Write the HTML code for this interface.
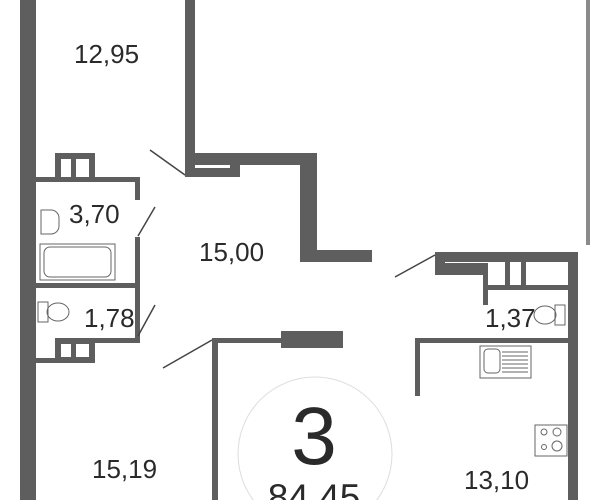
<!DOCTYPE html>
<html><head><meta charset="utf-8"><style>
html,body{margin:0;width:600px;height:500px;overflow:hidden;background:#fff}
svg{display:block}
text{font-family:"Liberation Sans",sans-serif;fill:#2a2a2a}
</style></head><body>
<svg width="600" height="500" viewBox="0 0 600 500" overflow="hidden">
<g fill="#5e5e5e">
<rect x="20" y="0" width="16" height="500"/>
<rect x="185" y="0" width="10" height="177"/>
<rect x="185" y="165" width="55" height="12"/>
<rect x="195" y="153" width="122" height="12"/>
<rect x="300" y="153" width="17" height="109"/>
<rect x="300" y="250" width="72" height="12"/>
<rect x="435" y="252" width="143" height="10"/>
<rect x="568" y="252" width="10" height="248"/>
<rect x="435" y="252" width="10" height="23"/>
<rect x="435" y="263" width="52" height="12"/>
<rect x="483" y="263" width="5" height="42"/>
<rect x="487" y="285" width="81" height="5"/>
<rect x="505" y="262" width="5" height="25"/>
<rect x="521" y="262" width="5" height="25"/>
<rect x="415" y="338" width="153" height="5"/>
<rect x="415" y="338" width="5" height="58"/>
<rect x="36" y="177" width="104" height="5"/>
<rect x="135" y="177" width="5" height="23"/>
<rect x="135" y="237" width="5" height="106"/>
<rect x="36" y="283" width="104" height="5"/>
<rect x="55" y="153" width="40" height="24"/>
<rect x="55" y="338" width="85" height="5"/>
<rect x="55" y="338" width="40" height="25"/>
<rect x="36" y="358" width="59" height="5"/>
<rect x="212" y="338" width="75" height="5"/>
<rect x="281" y="331" width="62" height="17"/>
<rect x="212" y="340" width="6" height="160"/>
<rect x="586" y="0" width="4" height="245" fill="#8a8a8a"/>
</g>
<g fill="#fff">
<rect x="195" y="165" width="35" height="3"/>
<rect x="61" y="159" width="10" height="18"/><rect x="76" y="159" width="13" height="18"/>
<rect x="61" y="344" width="10" height="13"/><rect x="76" y="344" width="13" height="13"/>
</g>
<g stroke="#444" stroke-width="1.5">
<line x1="150" y1="150" x2="185" y2="175"/>
<line x1="155" y1="207" x2="138" y2="236"/>
<line x1="155" y1="305" x2="138" y2="336"/>
<line x1="163" y1="368" x2="212" y2="340"/>
<line x1="395" y1="277" x2="435" y2="255"/>
</g>
<g fill="none" stroke="#666" stroke-width="1">
<rect x="40" y="244" width="75" height="36"/>
<rect x="44" y="247" width="67" height="30" rx="6"/>
<path d="M41 210 h10 a8 8 0 0 1 8 8 v8 a8 8 0 0 1 -8 8 h-10 z"/>
<rect x="38" y="302" width="10" height="20"/>
<ellipse cx="58" cy="312" rx="11" ry="9"/>
<rect x="555" y="305" width="10" height="20"/>
<ellipse cx="545" cy="315" rx="11" ry="9"/>
<rect x="480" y="346" width="51" height="32"/>
<rect x="484" y="349" width="16" height="24" rx="4"/>
<path d="M502 352h26M502 356h26M502 360h26M502 364h26M502 368h26M502 372h26"/>
<rect x="535" y="425" width="32" height="31"/>
<circle cx="544" cy="432" r="3"/><circle cx="557" cy="432" r="4"/>
<circle cx="544" cy="447" r="2.5"/><circle cx="557" cy="446" r="5"/>
<circle cx="315" cy="454" r="77" stroke="#ddd"/>
</g>
<g font-size="26">
<text x="74" y="63">12,95</text>
<text x="69" y="223">3,70</text>
<text x="199" y="261">15,00</text>
<text x="84" y="327">1,78</text>
<text x="92" y="478">15,19</text>
<text x="485" y="327">1,37</text>
<text x="464" y="489">13,10</text>
</g>
<text x="314" y="464" font-size="82" text-anchor="middle">3</text>
<text x="314" y="510" font-size="37" text-anchor="middle">84,45</text>
</svg>
</body></html>
